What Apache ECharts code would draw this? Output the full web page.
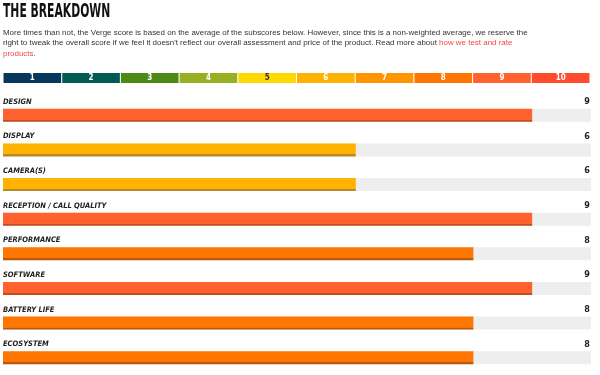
<!DOCTYPE html>
<html>
<head>
<meta charset="utf-8">
<script src="https://cdn.jsdelivr.net/npm/echarts@6/dist/echarts.min.js"></script>
<style>
  html, body { margin: 0; padding: 0; background: #fff; }
  #chart { width: 600px; height: 375px; }
</style>
</head>
<body>
<div id="chart"></div>
<script type="text/javascript">
var categories = ['DESIGN', 'DISPLAY', 'CAMERA(S)', 'RECEPTION / CALL QUALITY', 'PERFORMANCE', 'SOFTWARE', 'BATTERY LIFE', 'ECOSYSTEM'];
var scores = [9, 6, 6, 9, 8, 9, 8, 8];
var scaleLabels = ['1', '2', '3', '4', '5', '6', '7', '8', '9', '10'];
var scaleSteps = [1, 1, 1, 1, 1, 1, 1, 1, 1, 1];
var scaleColors = ['#07375a', '#025a52', '#4d8a14', '#97af22', '#ffd800', '#ffb300', '#ff9500', '#ff7700', '#ff622f', '#ff4c2c'];
var scaleEdge = ['#052a45', '#02463f', '#3b6a0f', '#74871a', '#c9aa00', '#b8892a', '#c07010', '#b95a0c', '#c44a20', '#c23a20'];

var narrow = "'Liberation Sans Narrow', 'DejaVu Sans Condensed', sans-serif";
var chart = echarts.init(document.getElementById('chart'));

var option = {
	animation: false,
	graphic: [
		{
			type: 'text', left: 3, top: 2, scaleX: 0.6,
			style: { text: 'THE BREAKDOWN', font: 'bold 20px ' + narrow, fill: '#111' }
		},
		{
			type: 'text', left: 3, top: 27,
			style: {
				text: 'More times than not, the Verge score is based on the average of the subscores below. However, since this is a non-weighted average, we reserve the\n' +
					'right to tweak the overall score if we feel it doesn\'t reflect our overall assessment and price of the product. Read more about {r|how we test and rate}\n' +
					'{r|products}.',
				fontFamily: "'Liberation Sans', Arial, sans-serif",
				fontSize: 7.95,
				lineHeight: 10.7,
				fill: '#333',
				rich: { r: { fill: '#f5464a', fontSize: 7.95, lineHeight: 10.7, fontFamily: "'Liberation Sans', Arial, sans-serif" } }
			}
		}
	],
	grid: [
		{ left: 3, width: 587, top: 73, height: 10 },
		{ left: 3, width: 588, top: 98, height: 279 }
	],
	xAxis: [
		{ gridIndex: 0, type: 'category', data: scaleLabels, show: false },
		{ gridIndex: 1, type: 'value', min: 0, max: 10, show: false }
	],
	yAxis: [
		{ gridIndex: 0, type: 'value', min: 0, max: 1, show: false },
		{ gridIndex: 1, type: 'category', data: categories, inverse: true, show: false }
	],
	series: [
		{
			type: 'bar',
			xAxisIndex: 0, yAxisIndex: 0,
			barCategoryGap: '1.8%',
			silent: true,
			data: scaleSteps.map(function (v, i) {
				return { value: v, itemStyle: { color: scaleColors[i] } };
			}),
			label: {
				show: true,
				position: 'inside',
				formatter: '{b}',
				fontFamily: narrow,
				fontWeight: 'bold',
				fontSize: 8,
				color: '#fff'
			}
		},
		{
			type: 'bar',
			xAxisIndex: 1, yAxisIndex: 1,
			barWidth: 13,
			silent: true,
			showBackground: true,
			backgroundStyle: { color: '#eeeeee' },
			data: scores.map(function (v) {
				var c = scaleColors[v - 1], d = scaleEdge[v - 1];
				return {
					value: v,
					itemStyle: {
						color: new echarts.graphic.LinearGradient(0, 0, 0, 1, [
							{ offset: 0, color: c }, { offset: 0.84, color: c },
							{ offset: 0.85, color: d }, { offset: 1, color: d }
						])
					}
				};
			}),
			label: {
				show: true,
				position: [0, -7],
				align: 'left',
				verticalAlign: 'middle',
				width: 587,
				formatter: function (p) {
					return '{n|' + p.name + '}{s|' + scores[p.dataIndex] + '}';
				},
				rich: {
					n: { fontFamily: narrow, fontWeight: 'bold', fontStyle: 'italic', fontSize: 7.5, color: '#222' },
					s: { fontFamily: narrow, fontWeight: 'bold', fontSize: 9, color: '#222', align: 'right' }
				}
			}
		}
	]
};

// scale label "5" sits on yellow, so dark text
option.series[0].data[4].label = { color: '#333' };

chart.setOption(option);
window.onresize = function () {
	chart.resize();
};
</script>
</body>
</html>
